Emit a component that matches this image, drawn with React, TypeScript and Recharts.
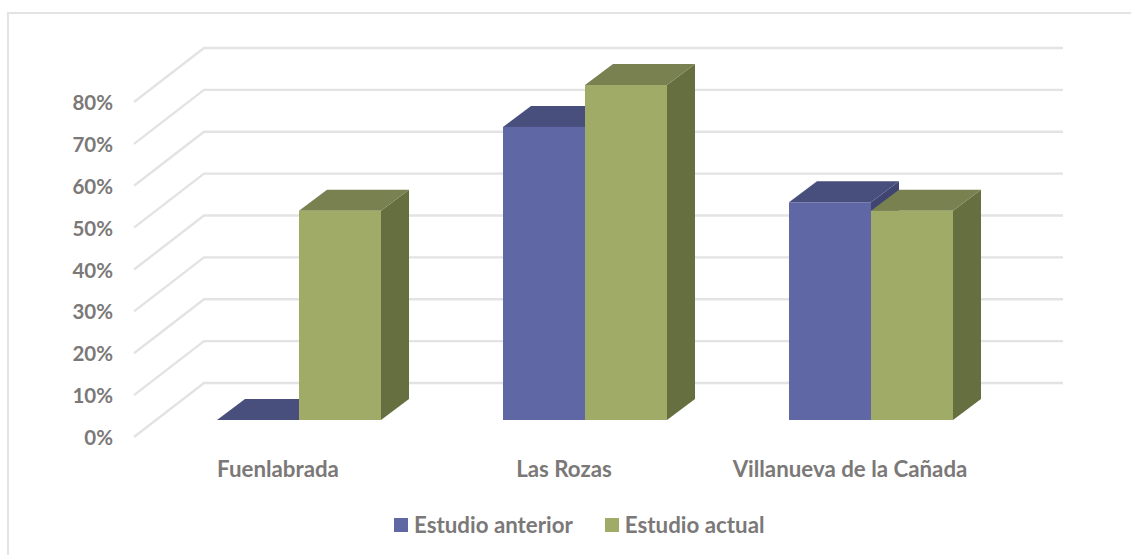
import { BarChart, Bar, XAxis, YAxis, Legend, CartesianGrid } from "recharts";

const categories = ["Fuenlabrada", "Las Rozas", "Villanueva de la Cañada"];
const estudioAnterior = [0, 70, 52];
const estudioActual = [50, 80, 50];
const yTicks = [0, 10, 20, 30, 40, 50, 60, 70, 80];

const data = categories.map((name, i) => ({
  name,
  anterior: estudioAnterior[i],
  actual: estudioActual[i],
}));

const FONT = "Lato, sans-serif";
const TEXT = "#7b7878";
const GRID = "#e3e3e3";
const DEPTH_X = 28;
const DEPTH_Y = 21;

function Box3D({ x, y, width, height, fill, topFill, sideFill }: any) {
  const r = x + width;
  const b = y + height;
  return (
    <g>
      <polygon
        points={`${r},${y} ${r + DEPTH_X},${y - DEPTH_Y} ${r + DEPTH_X},${b - DEPTH_Y} ${r},${b}`}
        fill={sideFill}
      />
      <polygon
        points={`${x},${y} ${x + DEPTH_X},${y - DEPTH_Y} ${r + DEPTH_X},${y - DEPTH_Y} ${r},${y}`}
        fill={topFill}
      />
      <rect x={x} y={y} width={width} height={height} fill={fill} />
    </g>
  );
}

// gridline runs along the side wall and then the back wall
function wallLine({ key, x1, x2, y1 }: any) {
  const left = x1 - 22;
  const back = x1 + 48;
  const right = x2 + 49;
  return (
    <polyline
      key={key}
      points={`${left},${y1 + 17} ${back},${y1 - 37} ${right},${y1 - 37}`}
      fill="none"
      stroke={GRID}
      strokeWidth={2.4}
    />
  );
}

function WallTick({ x, y, payload }: any) {
  return (
    <text
      x={x - 43}
      y={y + 17}
      textAnchor="end"
      dominantBaseline="central"
      fontFamily={FONT}
      fontWeight={700}
      fontSize={20.5}
      fill={TEXT}
    >
      {payload.value}%
    </text>
  );
}

function CategoryTick({ x, y, payload }: any) {
  return (
    <text
      x={x - 21}
      y={y + 48}
      textAnchor="middle"
      dominantBaseline="central"
      fontFamily={FONT}
      fontWeight={700}
      fontSize={22.3}
      fill={TEXT}
    >
      {payload.value}
    </text>
  );
}

function LegendRow({ payload }: any) {
  return (
    <div
      style={{
        display: "flex",
        fontFamily: FONT,
        fontWeight: 700,
        fontSize: 22.3,
        color: TEXT,
        lineHeight: "24px",
      }}
    >
      {(payload || []).map((item: any, i: number) => (
        <span
          key={item.value}
          style={{
            display: "flex",
            alignItems: "center",
            marginRight: i === 0 ? 32 : 0,
          }}
        >
          <span
            style={{
              width: 14,
              height: 14,
              background: item.color,
              marginRight: 6,
            }}
          />
          {item.value}
        </span>
      ))}
    </div>
  );
}

export default function App() {
  return (
    <div
      style={{
        position: "absolute",
        left: 0,
        top: 0,
        width: 1131,
        height: 555,
        overflow: "hidden",
        background: "#fff",
      }}
    >
      <div
        style={{
          position: "absolute",
          left: 7,
          top: 12,
          width: 1124,
          height: 543,
          borderLeft: `2px solid ${GRID}`,
          borderTop: `2px solid ${GRID}`,
        }}
      />
      <div style={{ position: "absolute", left: 0, top: 0 }}>
        <BarChart
          width={1131}
          height={555}
          data={data}
          margin={{ top: 85, right: 117, bottom: 110, left: 155 }}
          barSize={82}
          barGap={0}
        >
          <CartesianGrid vertical={false} horizontal={wallLine} />
          <YAxis
            width={1}
            domain={[0, 80]}
            ticks={yTicks}
            interval={0}
            axisLine={false}
            tickLine={false}
            tickSize={0}
            tickMargin={0}
            tick={<WallTick />}
          />
          <XAxis
            dataKey="name"
            height={1}
            interval={0}
            axisLine={false}
            tickLine={false}
            tickSize={0}
            tickMargin={0}
            tick={<CategoryTick />}
          />
          <Legend
            content={<LegendRow />}
            itemSorter={null}
            wrapperStyle={{ left: 394, top: 513, width: "auto" }}
          />
          <Bar
            dataKey="anterior"
            name="Estudio anterior"
            fill="#5f68a5"
            isAnimationActive={false}
            shape={<Box3D topFill="#494f7c" sideFill="#3f4570" />}
          />
          <Bar
            dataKey="actual"
            name="Estudio actual"
            fill="#a0ab67"
            isAnimationActive={false}
            shape={<Box3D topFill="#7a8150" sideFill="#666f40" />}
          />
        </BarChart>
      </div>
    </div>
  );
}
